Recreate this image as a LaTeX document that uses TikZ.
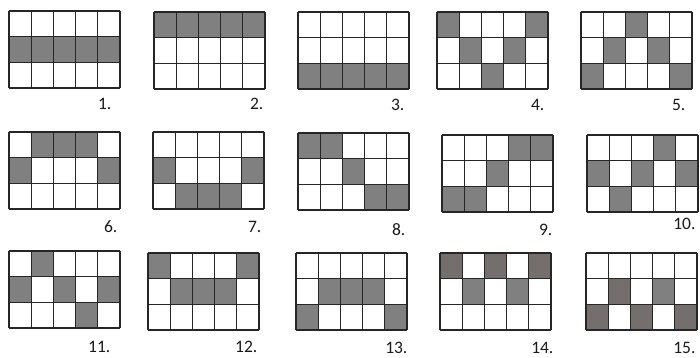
\documentclass[tikz,border=0pt]{standalone}
\usepackage{fontspec}
\setmainfont{Carlito}
\definecolor{cellgray}{RGB}{128,128,128}
\definecolor{celldark}{RGB}{116,111,109}
\begin{document}
\begin{tikzpicture}[x=1pt,y=-1pt,line width=1.2pt,font=\fontsize{17.5}{20}\selectfont,
  on/.style={fill=cellgray},
  ondark/.style={fill=celldark},
  gridline/.style={draw=black!85},
  lbl/.style={anchor=base east,inner sep=0pt,text=black!90}]
  \useasboundingbox (0,0) rectangle (700,358);
  % first row
  \begin{scope}[shift={(9,11)}]
    \foreach \c/\r in {1/2,2/2,3/2,4/2,5/2} \fill[on] ({(\c-1)*22.2},{(\r-1)*25.67}) rectangle ++(22.2,25.67);
    \foreach \i in {0,...,5} \draw[gridline] (\i*22.2,0) -- (\i*22.2,77);
    \foreach \j in {0,...,3} \draw[gridline] (0,\j*25.67) -- (111,\j*25.67);
  \end{scope}
  \node[lbl] (l1) at (112,110) {1.};
  \begin{scope}[shift={(154,12)}]
    \foreach \c/\r in {1/1,2/1,3/1,4/1,5/1} \fill[on] ({(\c-1)*22.2},{(\r-1)*25.67}) rectangle ++(22.2,25.67);
    \foreach \i in {0,...,5} \draw[gridline] (\i*22.2,0) -- (\i*22.2,77);
    \foreach \j in {0,...,3} \draw[gridline] (0,\j*25.67) -- (111,\j*25.67);
  \end{scope}
  \node[lbl] (l2) at (264,110) {2.};
  \begin{scope}[shift={(298,12)}]
    \foreach \c/\r in {1/3,2/3,3/3,4/3,5/3} \fill[on] ({(\c-1)*22.2},{(\r-1)*25.67}) rectangle ++(22.2,25.67);
    \foreach \i in {0,...,5} \draw[gridline] (\i*22.2,0) -- (\i*22.2,77);
    \foreach \j in {0,...,3} \draw[gridline] (0,\j*25.67) -- (111,\j*25.67);
  \end{scope}
  \node[lbl] (l3) at (405,111) {3.};
  \begin{scope}[shift={(437,12)}]
    \foreach \c/\r in {1/1,5/1,2/2,4/2,3/3} \fill[on] ({(\c-1)*22.2},{(\r-1)*25.67}) rectangle ++(22.2,25.67);
    \foreach \i in {0,...,5} \draw[gridline] (\i*22.2,0) -- (\i*22.2,77);
    \foreach \j in {0,...,3} \draw[gridline] (0,\j*25.67) -- (111,\j*25.67);
  \end{scope}
  \node[lbl] (l4) at (545,111) {4.};
  \begin{scope}[shift={(581,12)}]
    \foreach \c/\r in {3/1,2/2,4/2,1/3,5/3} \fill[on] ({(\c-1)*22.2},{(\r-1)*25.67}) rectangle ++(22.2,25.67);
    \foreach \i in {0,...,5} \draw[gridline] (\i*22.2,0) -- (\i*22.2,77);
    \foreach \j in {0,...,3} \draw[gridline] (0,\j*25.67) -- (111,\j*25.67);
  \end{scope}
  \node[lbl] (l5) at (686,111) {5.};
  % second row
  \begin{scope}[shift={(9,132)}]
    \foreach \c/\r in {2/1,3/1,4/1,1/2,5/2} \fill[on] ({(\c-1)*22.2},{(\r-1)*25.67}) rectangle ++(22.2,25.67);
    \foreach \i in {0,...,5} \draw[gridline] (\i*22.2,0) -- (\i*22.2,77);
    \foreach \j in {0,...,3} \draw[gridline] (0,\j*25.67) -- (111,\j*25.67);
  \end{scope}
  \node[lbl] (l6) at (118,232) {6.};
  \begin{scope}[shift={(153,132)}]
    \foreach \c/\r in {1/2,5/2,2/3,3/3,4/3} \fill[on] ({(\c-1)*22.2},{(\r-1)*25.67}) rectangle ++(22.2,25.67);
    \foreach \i in {0,...,5} \draw[gridline] (\i*22.2,0) -- (\i*22.2,77);
    \foreach \j in {0,...,3} \draw[gridline] (0,\j*25.67) -- (111,\j*25.67);
  \end{scope}
  \node[lbl] (l7) at (262,232) {7.};
  \begin{scope}[shift={(298,133)}]
    \foreach \c/\r in {1/1,2/1,3/2,4/3,5/3} \fill[on] ({(\c-1)*22.2},{(\r-1)*25.67}) rectangle ++(22.2,25.67);
    \foreach \i in {0,...,5} \draw[gridline] (\i*22.2,0) -- (\i*22.2,77);
    \foreach \j in {0,...,3} \draw[gridline] (0,\j*25.67) -- (111,\j*25.67);
  \end{scope}
  \node[lbl] (l8) at (406,235) {8.};
  \begin{scope}[shift={(442,135)}]
    \foreach \c/\r in {4/1,5/1,3/2,1/3,2/3} \fill[on] ({(\c-1)*22.2},{(\r-1)*25.67}) rectangle ++(22.2,25.67);
    \foreach \i in {0,...,5} \draw[gridline] (\i*22.2,0) -- (\i*22.2,77);
    \foreach \j in {0,...,3} \draw[gridline] (0,\j*25.67) -- (111,\j*25.67);
  \end{scope}
  \node[lbl] (l9) at (553,235) {9.};
  \begin{scope}[shift={(587,135)}]
    \foreach \c/\r in {4/1,1/2,3/2,5/2,2/3} \fill[on] ({(\c-1)*22.2},{(\r-1)*25.67}) rectangle ++(22.2,25.67);
    \foreach \i in {0,...,5} \draw[gridline] (\i*22.2,0) -- (\i*22.2,77);
    \foreach \j in {0,...,3} \draw[gridline] (0,\j*25.67) -- (111,\j*25.67);
  \end{scope}
  \node[lbl] (l10) at (696,229) {10.};
  % third row
  \begin{scope}[shift={(9,251)}]
    \foreach \c/\r in {2/1,1/2,3/2,5/2,4/3} \fill[on] ({(\c-1)*22.2},{(\r-1)*25.67}) rectangle ++(22.2,25.67);
    \foreach \i in {0,...,5} \draw[gridline] (\i*22.2,0) -- (\i*22.2,77);
    \foreach \j in {0,...,3} \draw[gridline] (0,\j*25.67) -- (111,\j*25.67);
  \end{scope}
  \node[lbl] (l11) at (111,352) {11.};
  \begin{scope}[shift={(148,253)}]
    \foreach \c/\r in {1/1,5/1,2/2,3/2,4/2} \fill[on] ({(\c-1)*22.2},{(\r-1)*25.67}) rectangle ++(22.2,25.67);
    \foreach \i in {0,...,5} \draw[gridline] (\i*22.2,0) -- (\i*22.2,77);
    \foreach \j in {0,...,3} \draw[gridline] (0,\j*25.67) -- (111,\j*25.67);
  \end{scope}
  \node[lbl] (l12) at (258,352) {12.};
  \begin{scope}[shift={(296,253)}]
    \foreach \c/\r in {2/2,3/2,4/2,1/3,5/3} \fill[on] ({(\c-1)*22.2},{(\r-1)*25.67}) rectangle ++(22.2,25.67);
    \foreach \i in {0,...,5} \draw[gridline] (\i*22.2,0) -- (\i*22.2,77);
    \foreach \j in {0,...,3} \draw[gridline] (0,\j*25.67) -- (111,\j*25.67);
  \end{scope}
  \node[lbl] (l13) at (408,353) {13.};
  \begin{scope}[shift={(440,253)}]
    \foreach \c/\r in {1/1,3/1,5/1} \fill[ondark] ({(\c-1)*22.2},{(\r-1)*25.67}) rectangle ++(22.2,25.67);
    \foreach \c/\r in {2/2,4/2} \fill[on] ({(\c-1)*22.2},{(\r-1)*25.67}) rectangle ++(22.2,25.67);
    \foreach \i in {0,...,5} \draw[gridline] (\i*22.2,0) -- (\i*22.2,77);
    \foreach \j in {0,...,3} \draw[gridline] (0,\j*25.67) -- (111,\j*25.67);
  \end{scope}
  \node[lbl] (l14) at (554,353) {14.};
  \begin{scope}[shift={(586,253)}]
    \foreach \c/\r in {2/2,1/3,3/3,5/3} \fill[ondark] ({(\c-1)*22.2},{(\r-1)*25.67}) rectangle ++(22.2,25.67);
    \foreach \c/\r in {4/2} \fill[on] ({(\c-1)*22.2},{(\r-1)*25.67}) rectangle ++(22.2,25.67);
    \foreach \i in {0,...,5} \draw[gridline] (\i*22.2,0) -- (\i*22.2,77);
    \foreach \j in {0,...,3} \draw[gridline] (0,\j*25.67) -- (111,\j*25.67);
  \end{scope}
  \node[lbl] (l15) at (696,353) {15.};
\end{tikzpicture}
\end{document}
